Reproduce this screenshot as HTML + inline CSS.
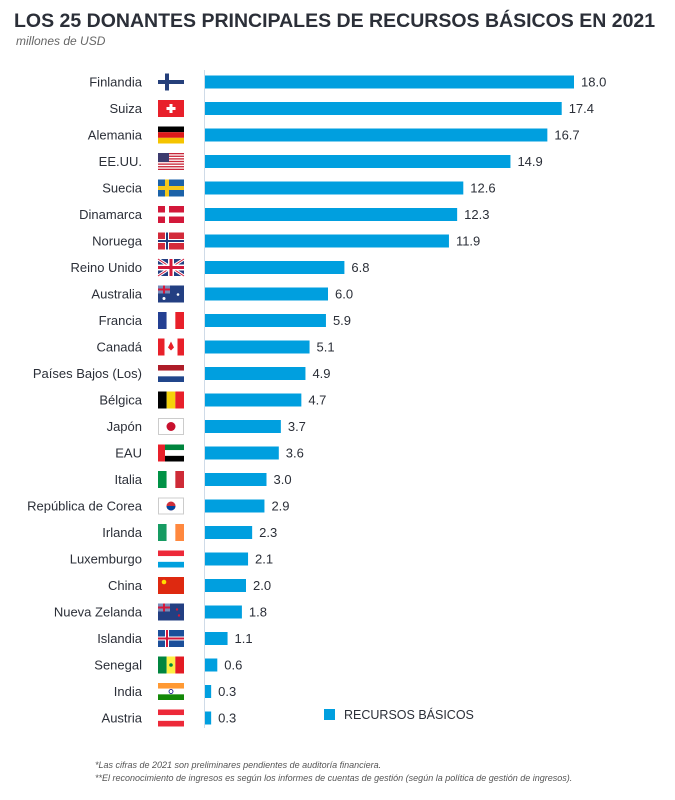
<!DOCTYPE html>
<html><head><meta charset="utf-8"><style>
body{margin:0;background:#fff;width:675px;height:795px;overflow:hidden;font-family:"Liberation Sans",sans-serif;}
svg text{font-family:"Liberation Sans",sans-serif;}
</style></head><body>
<svg id="chart" width="675" height="795" xmlns="http://www.w3.org/2000/svg">
<text x="14" y="27" font-size="19.5" font-weight="bold" fill="#2b2f38">LOS 25 DONANTES PRINCIPALES DE RECURSOS BÁSICOS EN 2021</text>
<text x="16" y="45" font-size="12" font-style="italic" fill="#666">millones de USD</text>
<line x1="204.5" y1="70" x2="204.5" y2="728" stroke="#cfdbe8" stroke-width="1"/>
<g id="rows"></g>
<rect x="324" y="709" width="11" height="11" fill="#009fdf"/>
<text x="344" y="719" font-size="12.5" fill="#2b2f38">RECURSOS BÁSICOS</text>
<text x="95" y="768" font-size="9" font-style="italic" fill="#555">*Las cifras de 2021 son preliminares pendientes de auditoría financiera.</text>
<text x="95" y="781" font-size="9" font-style="italic" fill="#555">**El reconocimiento de ingresos es según los informes de cuentas de gestión (según la política de gestión de ingresos).</text>
</svg>
<script>
const categories=["Finlandia","Suiza","Alemania","EE.UU.","Suecia","Dinamarca","Noruega","Reino Unido","Australia","Francia","Canadá","Países Bajos (Los)","Bélgica","Japón","EAU","Italia","República de Corea","Irlanda","Luxemburgo","China","Nueva Zelanda","Islandia","Senegal","India","Austria"];
const values=[18.0,17.4,16.7,14.9,12.6,12.3,11.9,6.8,6.0,5.9,5.1,4.9,4.7,3.7,3.6,3.0,2.9,2.3,2.1,2.0,1.8,1.1,0.6,0.3,0.3];
const valueLabels=["18.0","17.4","16.7","14.9","12.6","12.3","11.9","6.8","6.0","5.9","5.1","4.9","4.7","3.7","3.6","3.0","2.9","2.3","2.1","2.0","1.8","1.1","0.6","0.3","0.3"];
const NS="http://www.w3.org/2000/svg";
const x0=205,pxPer=20.5,y0=82,step=26.5,bh=13;
function xs(v){return v*pxPer;}
function ys(i){return y0+i*step;}
const g=document.getElementById('rows');
function mk(t,a,p){const e=document.createElementNS(NS,t);for(const k in a)e.setAttribute(k,a[k]);(p||g).appendChild(e);return e;}
function flag(name,x,y){
 const w=26,h=17,f=mk('g',{});
 
 
 const R=(a,b,c,d,col)=>mk('rect',{x:x+a,y:y+b,width:c,height:d,fill:col},f);
 const H3=(c1,c2,c3)=>{R(0,0,w,h/3,c1);R(0,h/3,w,h/3,c2);R(0,2*h/3,w,h/3,c3);};
 const V3=(c1,c2,c3)=>{R(0,0,w/3,h,c1);R(w/3,0,w/3,h,c2);R(2*w/3,0,w/3,h,c3);};
 const nord=(bg,c1,c2)=>{R(0,0,w,h,bg);R(7,0,4,h,c1);R(0,6.5,w,4,c1);if(c2){R(8,0,2,h,c2);R(0,7.5,w,2,c2);}};
 switch(name){
 case"Finlandia":nord('#fff','#253f7a');break;
 case"Suiza":R(0,0,w,h,'#e8202a');R(11.5,4,3,9,'#fff');R(8.5,7,9,3,'#fff');break;
 case"Alemania":H3('#000','#dd1a1a','#f5c400');break;
 case"EE.UU.":for(let i=0;i<7;i++)R(0,i*h/6.5,w,h/13,'#c8263a');R(0,0,11,9,'#3c3b6e');break;
 case"Suecia":nord('#1b62a8','#f3c81b');break;
 case"Dinamarca":nord('#d3183a','#fff');break;
 case"Noruega":nord('#d32a3a','#fff','#203c7c');break;
 case"Reino Unido":R(0,0,w,h,'#233f82');mk('path',{d:`M${x} ${y}L${x+w} ${y+h}M${x+w} ${y}L${x} ${y+h}`,stroke:'#fff','stroke-width':3},f);mk('path',{d:`M${x} ${y}L${x+w} ${y+h}M${x+w} ${y}L${x} ${y+h}`,stroke:'#d3183a','stroke-width':1},f);R(10,0,6,h,'#fff');R(0,5.5,w,6,'#fff');R(11.5,0,3,h,'#d3183a');R(0,7,w,3,'#d3183a');break;
 case"Australia":R(0,0,w,h,'#233f82');R(0,0,12,8,'#7a8bb8');R(5,0,2,8,'#d3183a');R(0,3,12,2,'#d3183a');mk('circle',{cx:x+20,cy:y+9,r:1.3,fill:'#fff'},f);mk('circle',{cx:x+6,cy:y+13,r:1.5,fill:'#fff'},f);break;
 case"Francia":V3('#233f92','#fff','#e8202a');break;
 case"Canadá":R(0,0,w,h,'#fff');R(0,0,6.5,h,'#e8202a');R(19.5,0,6.5,h,'#e8202a');mk('path',{d:`M${x+13} ${y+3}L${x+16} ${y+9}L${x+13} ${y+12}L${x+10} ${y+9}Z`,fill:'#e8202a'},f);break;
 case"Países Bajos (Los)":H3('#ae1c28','#fff','#21468b');break;
 case"Bélgica":V3('#000','#f5d20a','#e8202a');break;
 case"Japón":R(0,0,w,h,'#fff');mk('rect',{x:x+.5,y:y+.5,width:w-1,height:h-1,fill:'none',stroke:'#ccc'},f);mk('circle',{cx:x+13,cy:y+8.5,r:4.5,fill:'#c8102e'},f);break;
 case"EAU":H3('#00843d','#fff','#000');R(0,0,7,h,'#e8202a');break;
 case"Italia":V3('#009246','#fff','#ce2b37');break;
 case"República de Corea":R(0,0,w,h,'#fff');mk('rect',{x:x+.5,y:y+.5,width:w-1,height:h-1,fill:'none',stroke:'#ccc'},f);mk('circle',{cx:x+13,cy:y+8.5,r:4.5,fill:'#cd2e3a'},f);mk('path',{d:`M${x+8.5} ${y+8.5}A4.5 4.5 0 0 0 ${x+17.5} ${y+8.5}Z`,fill:'#0047a0'},f);break;
 case"Irlanda":V3('#169b62','#fff','#ff883e');break;
 case"Luxemburgo":H3('#ed2939','#fff','#00a1de');break;
 case"China":R(0,0,w,h,'#de2910');mk('circle',{cx:x+6,cy:y+5,r:2.3,fill:'#ffde00'},f);break;
 case"Nueva Zelanda":R(0,0,w,h,'#233f82');R(0,0,12,8,'#7a8bb8');R(5,0,2,8,'#d3183a');R(0,3,12,2,'#d3183a');mk('circle',{cx:x+19,cy:y+6,r:1.2,fill:'#d3183a'},f);mk('circle',{cx:x+21,cy:y+12,r:1.2,fill:'#d3183a'},f);break;
 case"Islandia":nord('#1b4f9a','#fff','#d3183a');break;
 case"Senegal":V3('#00853f','#fdef42','#e31b23');mk('circle',{cx:x+13,cy:y+8.5,r:1.8,fill:'#00853f'},f);break;
 case"India":H3('#ff9933','#fff','#138808');mk('circle',{cx:x+13,cy:y+8.5,r:2,fill:'none',stroke:'#000080','stroke-width':.8},f);break;
 case"Austria":H3('#ed2939','#fff','#ed2939');break;
 }
}
categories.forEach((c,i)=>{
 const y=ys(i);
 const lab=mk('text',{x:142,y:y+4.5,'font-size':13,'text-anchor':'end',fill:'#2b2f38'});
 lab.textContent=c;
 
 
 flag(c,158,y-8.5);
 const b=mk('rect',{x:x0,y:y-bh/2,width:xs(values[i]),height:bh,fill:'#009fdf'});
 
 
 const v=mk('text',{x:x0+xs(values[i])+7,y:y+4.5,'font-size':13,fill:'#2b2f38'});
 v.textContent=valueLabels[i];
 
 
});
</script>
</body></html>
